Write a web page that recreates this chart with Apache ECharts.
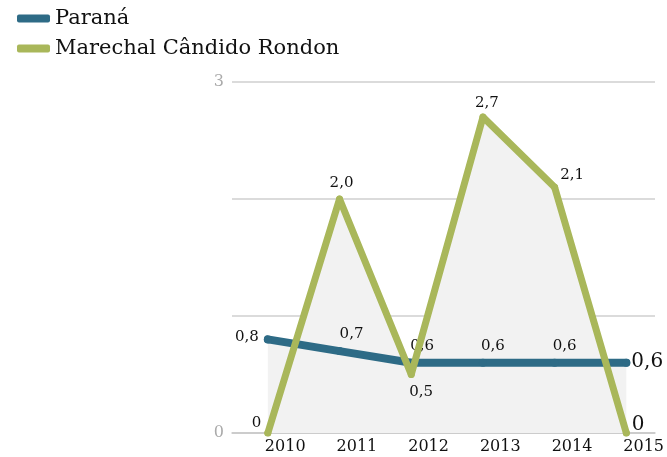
<!DOCTYPE html>
<html>
<head>
    <meta charset="utf-8">
    <title>Paraná x Marechal Cândido Rondon</title>
    <script src="https://cdn.jsdelivr.net/npm/echarts@6/dist/echarts.min.js"></script>
    <style>
        html, body { margin: 0; padding: 0; background: #fff; }
        #chart { width: 667px; height: 457px; }
    </style>
</head>
<body>
<div id="chart"></div>
<script type="text/javascript">
    // dados
    var anos = [2010, 2011, 2012, 2013, 2014, 2015];
    var parana = [0.8, 0.7, 0.6, 0.6, 0.6, 0.6];
    var rondon = [0, 2.0, 0.5, 2.7, 2.1, 0];
    var yTickLabels = [0, 3];

    var corParana = '#2e6b86';
    var corRondon = '#a9b75a';
    var fonte = '"DejaVu Serif", serif';

    // posição dos rótulos de cada ponto
    var posParana = [['left', [0, -2]], ['top', [12, 0]], ['top', [11, 0]], ['top', [10, 0]], ['top', [10, 0]], ['right', [-4, -1]]];
    var posRondon = [['left', [2, -10]], ['top', [2, 0]], ['bottom', [10, 2]], ['top', [4, 2]], ['right', [-3, -12]], ['right', [-3, -8]]];

    function fmt(v) {
        return v === 0 ? '0' : v.toFixed(1).replace('.', ',');
    }

    function pontos(vals, pos) {
        return vals.map(function (v, i) {
            var big = (i === vals.length - 1);
            return {
                value: [anos[i], v],
                label: {
                    show: true,
                    position: pos[i][0],
                    offset: pos[i][1],
                    formatter: fmt(v),
                    fontSize: big ? 20 : 15,
                    color: '#111',
                    fontFamily: fonte
                }
            };
        });
    }

    function area(vals) {
        return vals.map(function (v, i) { return [anos[i], v]; });
    }

    var myChart = echarts.init(document.getElementById('chart'));

    var option = {
        animation: false,
        legend: {
            data: ['Paraná', 'Marechal Cândido Rondon'],
            orient: 'vertical',
            left: 12,
            top: 3,
            itemWidth: 33,
            itemHeight: 8,
            itemGap: 9,
            icon: 'roundRect',
            textStyle: { fontSize: 21, fontFamily: fonte, color: '#111' }
        },
        grid: { left: 232, right: 12, top: 82, bottom: 24, outerBoundsMode: 'none', containLabel: false },
        xAxis: {
            type: 'value',
            min: 2009.5,
            max: 2015.4,
            axisLine: { lineStyle: { color: '#c8c8c8', width: 1.5 } },
            axisTick: { show: true, inside: true, length: 8, lineStyle: { color: '#c8c8c8' }, customValues: [2011, 2012, 2013, 2014] },
            axisLabel: {
                customValues: anos,
                margin: 6,
                fontSize: 16,
                align: 'left',
                padding: [0, 0, 0, -3],
                color: '#111',
                fontFamily: fonte,
                formatter: function (v) { return String(v); }
            },
            splitLine: { show: false }
        },
        yAxis: {
            type: 'value',
            min: 0,
            max: 3,
            interval: 1,
            axisLine: { show: false },
            axisTick: { show: false },
            axisLabel: {
                customValues: yTickLabels,
                margin: 8,
                fontSize: 16,
                color: '#aaa',
                fontFamily: fonte
            },
            splitLine: { lineStyle: { color: '#cfcfcf', width: 1.5 } }
        },
        series: [
            {
                name: 'area1',
                type: 'line',
                z: 1,
                silent: true,
                symbol: 'none',
                lineStyle: { width: 0 },
                areaStyle: { color: '#f2f2f2', opacity: 1 },
                data: area(rondon)
            },
            {
                name: 'area2',
                type: 'line',
                z: 1,
                silent: true,
                symbol: 'none',
                lineStyle: { width: 0 },
                areaStyle: { color: '#f2f2f2', opacity: 1 },
                data: area(parana)
            },
            {
                name: 'Paraná',
                type: 'line',
                z: 3,
                symbol: 'circle',
                symbolSize: 8,
                itemStyle: { color: corParana },
                lineStyle: { color: corParana, width: 8, cap: 'round', join: 'round' },
                data: pontos(parana, posParana)
            },
            {
                name: 'Marechal Cândido Rondon',
                type: 'line',
                z: 4,
                symbol: 'circle',
                symbolSize: 7,
                itemStyle: { color: corRondon },
                lineStyle: { color: corRondon, width: 7, cap: 'round', join: 'round' },
                data: pontos(rondon, posRondon)
            }
        ]
    };

    myChart.setOption(option);
</script>
</body>
</html>
